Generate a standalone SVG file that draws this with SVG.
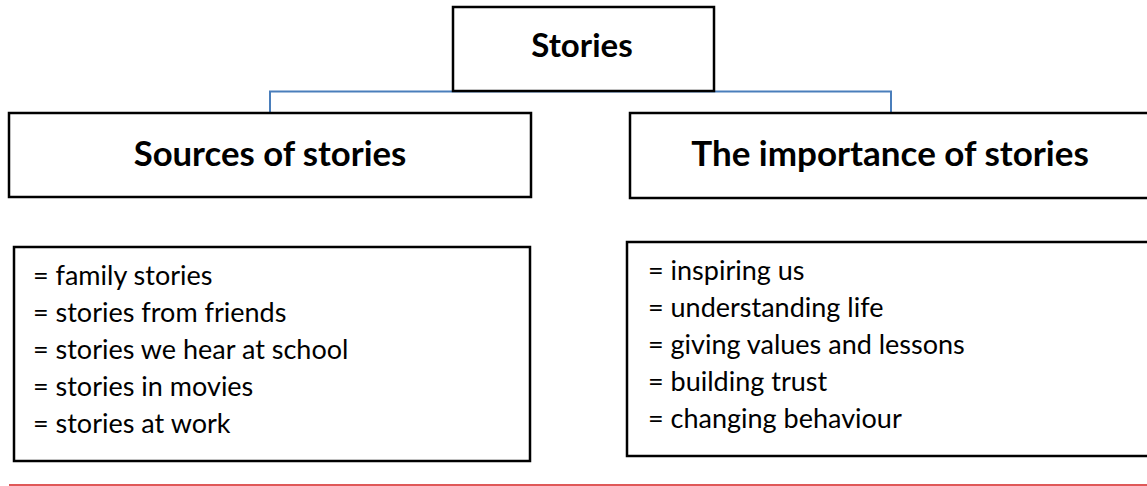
<svg xmlns="http://www.w3.org/2000/svg" width="1147" height="486" viewBox="0 0 1147 486">
<style>
.box{fill:#fff;stroke:#000;stroke-width:2.5}
.conn{fill:none;stroke:#4a7ebb;stroke-width:2}
.h{font-family:Lato,"Open Sans","Liberation Sans",sans-serif;font-weight:bold;fill:#000;text-anchor:middle}
.li{font-family:Lato,"Open Sans","Liberation Sans",sans-serif;font-size:27px;fill:#000}
</style>
<rect width="1147" height="486" fill="#fff"/>
<g id="connectors">
<polyline class="conn" points="270,113 270,91.5 891,91.5 891,113"/>
</g>
<g id="stories">
<rect class="box" x="453" y="7" width="261" height="84"/>
<text class="h" x="582" y="57" font-size="33">Stories</text>
</g>
<g id="sources">
<rect class="box" x="9" y="113" width="522" height="84"/>
<text class="h" x="270" y="166" font-size="34.7">Sources of stories</text>
</g>
<g id="importance">
<rect class="box" x="630" y="113" width="540" height="85"/>
<text class="h" x="890" y="166" font-size="35">The importance of stories</text>
</g>
<g id="sources-list">
<rect class="box" x="14" y="247" width="516" height="214"/>
<text class="li" x="33" y="285">= family stories</text>
<text class="li" x="33" y="322">= stories from friends</text>
<text class="li" x="33" y="359">= stories we hear at school</text>
<text class="li" x="33" y="396">= stories in movies</text>
<text class="li" x="33" y="433">= stories at work</text>
</g>
<g id="importance-list">
<rect class="box" x="627" y="242" width="540" height="214"/>
<text class="li" x="648" y="280">= inspiring us</text>
<text class="li" x="648" y="317">= understanding life</text>
<text class="li" x="648" y="354">= giving values and lessons</text>
<text class="li" x="648" y="391">= building trust</text>
<text class="li" x="648" y="428">= changing behaviour</text>
</g>
<line x1="9" y1="485" x2="1147" y2="485" stroke="#d42020" stroke-width="1.5"/>
</svg>
